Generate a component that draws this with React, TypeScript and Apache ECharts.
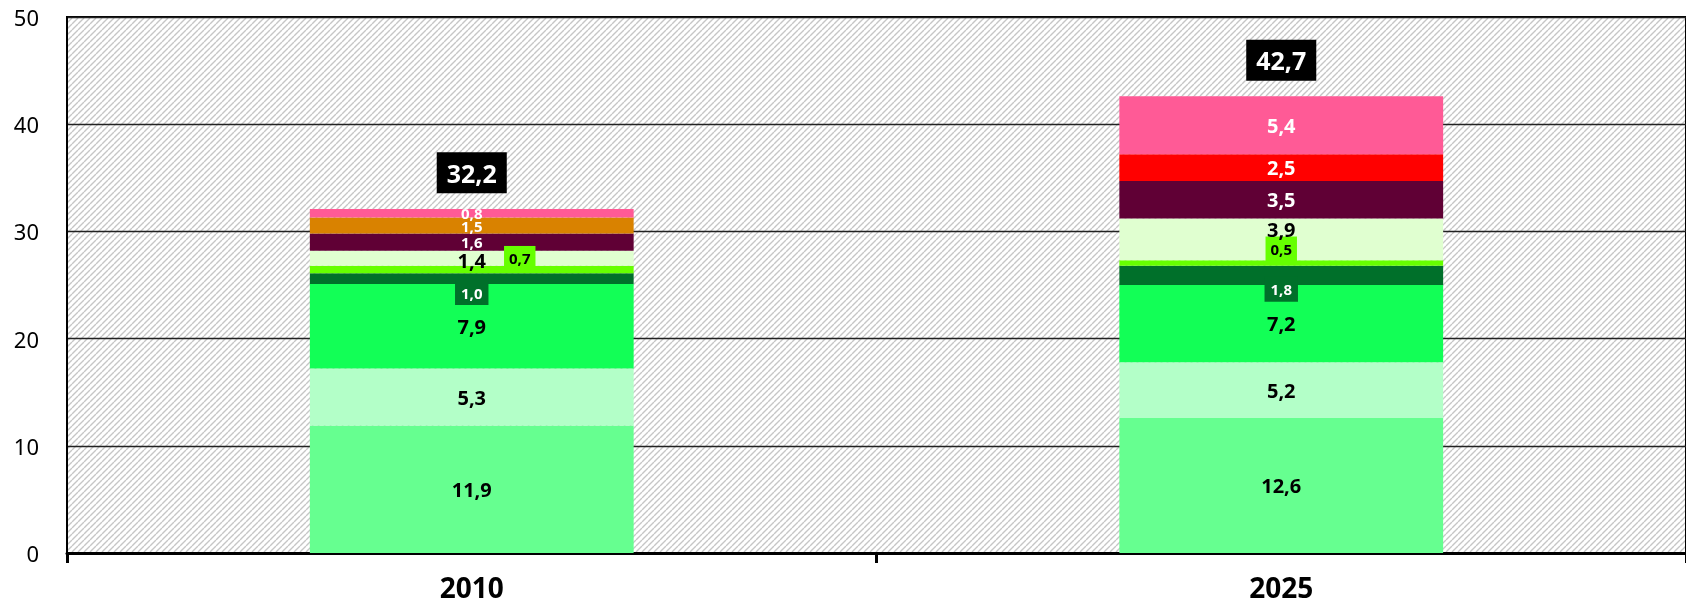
import React, { useEffect, useRef } from "react";
import * as echarts from "echarts";

const FONT = "'Noto Sans', 'Open Sans', sans-serif";

const categories = ["2010", "2025"];
const yMin = 0;
const yMax = 50;
const yInterval = 10;

const baseValues = [11.9, 12.6];
const paleValues = [5.3, 5.2];
const brightValues = [7.9, 7.2];
const darkValues = [1.0, 1.8];
const limeValues = [0.7, 0.5];
const lightValues = [1.4, 3.9];
const maroonValues = [1.6, 3.5];
const orangeValues: (number | null)[] = [1.5, null];
const redValues: (number | null)[] = [null, 2.5];
const pinkValues = [0.8, 5.4];
const totals = [32.2, 42.7];

const fmt = (p: any) => Number(p.value).toFixed(1).replace(".", ",");

function lbl(color: string, size: number, extra: any = {}) {
  return {
    show: true,
    position: "inside",
    color,
    fontSize: size,
    fontWeight: "bold",
    fontFamily: FONT,
    formatter: fmt,
    ...extra,
  };
}

function makeHatch() {
  const n = 6;
  const c = document.createElement("canvas");
  c.width = n;
  c.height = n;
  const ctx = c.getContext("2d")!;
  ctx.fillStyle = "#ffffff";
  ctx.fillRect(0, 0, n, n);
  ctx.strokeStyle = "#c6c6c6";
  ctx.lineWidth = 1.4;
  ctx.beginPath();
  for (const o of [-n, 0, n]) {
    ctx.moveTo(o, n);
    ctx.lineTo(o + n, 0);
  }
  ctx.stroke();
  return { image: c.toDataURL(), repeat: "repeat", imageWidth: n, imageHeight: n };
}

function toData(vals: (number | null)[], labels: any[] = []) {
  return vals.map((v, i) => {
    if (v == null) return "-";
    return labels[i] ? { value: v, label: labels[i] } : v;
  });
}

export default function App() {
  const ref = useRef<HTMLDivElement>(null);
  useEffect(() => {
    if (!ref.current) return;
    const chart = echarts.init(ref.current, undefined, { renderer: "svg" });
    const bar = (name: string, color: string, data: any[], label: any) => ({
      name,
      type: "bar",
      stack: "total",
      barWidth: "40%",
      itemStyle: { color },
      label,
      data,
    });
    chart.setOption({
      animation: false,
      textStyle: { fontFamily: FONT },
      grid: {
        left: 67,
        right: -1,
        top: 17,
        bottom: 52,
        show: true,
        backgroundColor: makeHatch(),
        borderColor: "#000",
        borderWidth: 2,
      },
      xAxis: {
        type: "category",
        data: categories,
        axisLine: { lineStyle: { color: "#000", width: 3 } },
        axisTick: { show: true, length: 10, lineStyle: { color: "#000", width: 3 } },
        axisLabel: {
          color: "#000",
          fontSize: 28,
          fontWeight: "bold",
          fontFamily: FONT,
          margin: 20,
        },
      },
      yAxis: {
        type: "value",
        min: yMin,
        max: yMax,
        interval: yInterval,
        axisLine: { show: true, lineStyle: { color: "#000", width: 2 } },
        axisTick: { show: false },
        splitLine: { show: true, lineStyle: { color: "#222", width: 1.3 } },
        axisLabel: { color: "#000", fontSize: 22, fontFamily: FONT, margin: 28 },
      },
      series: [
        bar("base", "#66FF90", toData(baseValues), lbl("#000", 20)),
        bar("pale", "#B3FFC8", toData(paleValues), lbl("#000", 20)),
        bar("bright", "#12FF56", toData(brightValues), lbl("#000", 20)),
        bar(
          "dark",
          "#00702A",
          toData(darkValues),
          lbl("#fff", 15, { backgroundColor: "#00702A", padding: [5, 6], offset: [0, 14] })
        ),
        bar(
          "lime",
          "#66FF00",
          toData(limeValues, [{ offset: [48, -11] }, { offset: [0, -14] }]),
          lbl("#000", 15, { backgroundColor: "#66FF00", padding: [5, 5] })
        ),
        bar(
          "light",
          "#E0FFD0",
          toData(lightValues, [{ offset: [0, 2] }, { offset: [0, -10] }]),
          lbl("#000", 20)
        ),
        bar(
          "maroon",
          "#600035",
          toData(maroonValues, [{ fontSize: 15 }, null]),
          lbl("#fff", 20)
        ),
        bar("orange", "#D98200", toData(orangeValues), lbl("#fff", 15)),
        bar("red", "#FF0000", toData(redValues), lbl("#fff", 20)),
        bar(
          "pink",
          "#FF5A96",
          toData(pinkValues, [{ fontSize: 15 }, null]),
          lbl("#fff", 20)
        ),
        {
          name: "total",
          type: "scatter",
          symbol: "circle",
          symbolSize: 0,
          itemStyle: { color: "rgba(0,0,0,0)", opacity: 1 },
          silent: true,
          z: 10,
          label: {
            show: true,
            position: "inside",
            offset: [0, -35],
            color: "#fff",
            opacity: 1,
            backgroundColor: "#000",
            padding: [8, 10],
            fontSize: 25,
            fontWeight: "bold",
            fontFamily: FONT,
            formatter: fmt,
          },
          data: totals,
        },
      ],
    });
    return () => chart.dispose();
  }, []);
  return (
    <div
      ref={ref}
      style={{ position: "fixed", left: 0, top: 0, width: 1686, height: 605 }}
    />
  );
}
